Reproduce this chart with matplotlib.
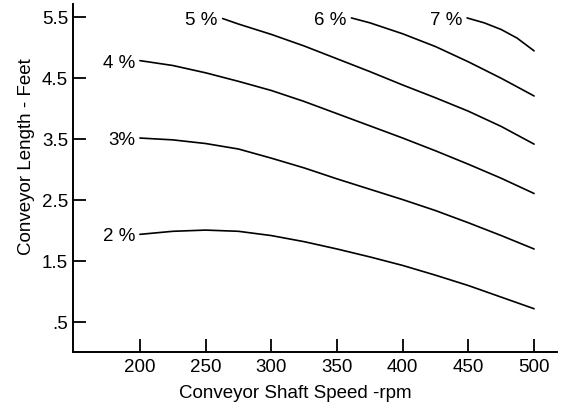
import matplotlib
matplotlib.use("Agg")
import matplotlib.pyplot as plt

plt.rcParams['font.family'] = ['Liberation Sans', 'DejaVu Sans']

# Conveyor length (feet) vs shaft speed (rpm) for each incline percentage
rpm_2 = [200, 225, 250, 275, 300, 325, 350, 375, 400, 425, 450, 475, 500]
len_2 = [1.93, 1.98, 2.00, 1.98, 1.91, 1.81, 1.69, 1.56, 1.42, 1.26, 1.09, 0.90, 0.71]

rpm_3 = [200, 225, 250, 275, 300, 325, 350, 375, 400, 425, 450, 475, 500]
len_3 = [3.51, 3.48, 3.42, 3.33, 3.18, 3.02, 2.84, 2.67, 2.50, 2.32, 2.12, 1.91, 1.69]

rpm_4 = [200, 225, 250, 275, 300, 325, 350, 375, 400, 425, 450, 475, 500]
len_4 = [4.78, 4.70, 4.58, 4.44, 4.29, 4.11, 3.91, 3.71, 3.51, 3.30, 3.08, 2.85, 2.60]

rpm_5 = [263, 275, 300, 325, 350, 375, 400, 425, 450, 475, 500]
len_5 = [5.47, 5.38, 5.21, 5.02, 4.81, 4.60, 4.38, 4.17, 3.95, 3.70, 3.41]

rpm_6 = [361, 375, 400, 425, 450, 475, 500]
len_6 = [5.48, 5.40, 5.22, 5.01, 4.76, 4.49, 4.20]

rpm_7 = [449, 462, 475, 487, 500]
len_7 = [5.48, 5.40, 5.29, 5.15, 4.94]

curve_labels = ["2 %", "3%", "4 %", "5 %", "6 %", "7 %"]

x_ticks = [200, 250, 300, 350, 400, 450, 500]
x_tick_labels = ["200", "250", "300", "350", "400", "450", "500"]
y_ticks = [0.5, 1.5, 2.5, 3.5, 4.5, 5.5]
y_tick_labels = [".5", "1.5", "2.5", "3.5", "4.5", "5.5"]

fig = plt.figure(figsize=(5.65, 4.10), dpi=100)
ax = fig.add_axes([0.129, 0.139, 0.857, 0.849])

curves = [(rpm_2, len_2), (rpm_3, len_3), (rpm_4, len_4),
          (rpm_5, len_5), (rpm_6, len_6), (rpm_7, len_7)]
for (xs, ys), lab in zip(curves, curve_labels):
    ax.plot(xs, ys, color='black', lw=1.2, solid_capstyle='round',
            solid_joinstyle='round')
    ax.annotate(lab, xy=(xs[0], ys[0]), xytext=(-3.5, -1),
                textcoords='offset points', ha='right', va='center',
                fontsize=13.5, color='black')

ax.set_xlim(149, 517.5)
ax.set_ylim(0, 5.71)

ax.set_xticks(x_ticks)
ax.set_xticklabels(x_tick_labels)
ax.set_yticks(y_ticks)
ax.set_yticklabels(y_tick_labels)

for side in ('top', 'right'):
    ax.spines[side].set_visible(False)
for side in ('left', 'bottom'):
    ax.spines[side].set_linewidth(1.4)

ax.tick_params(axis='both', direction='in', length=9.5, width=1.3,
               labelsize=13.5, colors='black')
ax.tick_params(axis='x', pad=4)
ax.tick_params(axis='y', pad=3.5)

ax.set_xlabel("Conveyor Shaft Speed -rpm", fontsize=13.5)
ax.xaxis.set_label_coords(0.46, -0.092)
ax.set_ylabel("Conveyor Length - Feet", fontsize=13.5)
ax.yaxis.set_label_coords(-0.078, 0.563)

fig.savefig("out.png", dpi=100)
